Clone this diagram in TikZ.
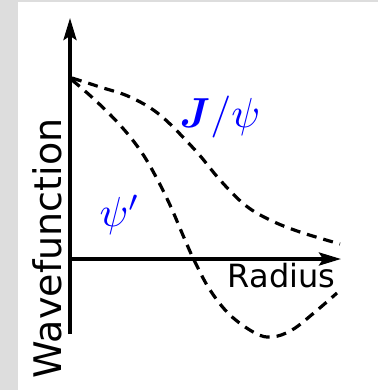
\documentclass[tikz,border=0pt]{standalone}
\usepackage{fontspec}
\usepackage{bm}
\newfontfamily\dvs{DejaVu Sans}
\usetikzlibrary{arrows.meta}
\definecolor{bggray}{HTML}{DDDDDD}
\begin{document}
\begin{tikzpicture}[x=1pt,y=-1pt,
  axis/.style={line width=3.5pt,-{Stealth[length=22pt,width=13pt,inset=4pt]}},
  wave/.style={line width=3.2pt,dash pattern=on 10pt off 7pt},
  lab/.style={text=blue,inner sep=0pt,font=\fontsize{10}{12}\selectfont,scale=4.2},
  axlab/.style={inner sep=0pt}]
\useasboundingbox (0,0) rectangle (378,390);
\fill[bggray] (0,0) rectangle (378,390);
\fill[white] (17.5,2) rectangle (378,390);
\coordinate (o) at (70,259);
\coordinate (ybot) at (70,334);
\coordinate (ytop) at (70,18);
\coordinate (xend) at (341,259);
\draw[axis] (ybot) -- (ytop);
\draw[axis] (o) -- (xend);
\draw[wave] plot[smooth,tension=0.6] coordinates {(72,78) (100,87) (130,97) (160,115) (195,150) (220,180) (245,205) (270,220) (300,232) (340,244)};
\draw[wave] plot[smooth,tension=0.6] coordinates {(72,80) (95,100) (120,125) (140,150) (155,175) (170,205) (185,240) (195,262) (210,290) (230,315) (255,333) (272,337) (292,330) (315,312) (337,293)};
\node[axlab,rotate=90,font=\dvs\fontsize{38}{40}\selectfont] (wf) at (47.5,248.5) {Wavefunction};
\node[axlab,anchor=base,font=\dvs\fontsize{32}{36}\selectfont] (rad) at (281.5,287) {Radius};
\node[lab] (jpsi) at (220,117) {$\bm{J}/\psi$};
\node[lab] (psip) at (120,215) {$\psi'$};
\end{tikzpicture}
\end{document}
